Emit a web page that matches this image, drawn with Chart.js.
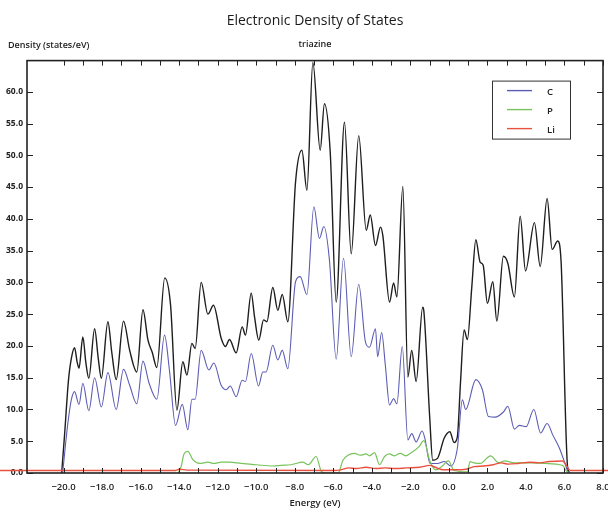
<!DOCTYPE html>
<html>
<head>
<meta charset="utf-8">
<script src="https://cdn.jsdelivr.net/npm/chart.js@4.4.1/dist/chart.umd.min.js"></script>
<style>
    html, body { margin: 0; padding: 0; background: #fff; overflow: hidden; }
    #wrap { width: 608px; height: 512px; }
</style>
</head>
<body>
<div id="wrap"><canvas id="dosChart"></canvas></div>
<script>
// Energy (eV) / density (states/eV) pairs
const totalDos = [
    [-20.1, 0], [-19.95, 6], [-19.75, 14.5], [-19.6, 18], [-19.43, 19.7], [-19.3, 17.5], [-19.2, 16.5],
    [-19.0, 21.4], [-18.85, 17.5], [-18.69, 14.9], [-18.39, 22.7], [-18.2, 18], [-18.04, 14.9],
    [-17.7, 23.8], [-17.5, 19], [-17.27, 14.7], [-16.89, 23.9], [-16.57, 19.3], [-16.2, 15.9],
    [-15.88, 25.7], [-15.62, 20.9], [-15.4, 19], [-15.16, 16.6], [-14.75, 30.7], [-14.45, 26.5],
    [-14.12, 9.9], [-13.81, 17.5], [-13.6, 15.4], [-13.34, 20.4], [-13.17, 19.6], [-12.86, 30.0],
    [-12.51, 25.0], [-12.22, 26.4], [-11.82, 21.2], [-11.6, 19.9], [-11.39, 21.0], [-11.04, 18.9],
    [-10.73, 23.0], [-10.56, 21.7], [-10.26, 28.3], [-10.09, 24.6], [-9.87, 20.9], [-9.62, 24.1],
    [-9.45, 23.8], [-9.14, 29.2], [-8.88, 25.6], [-8.65, 28.1], [-8.36, 23.8], [-7.96, 45.8],
    [-7.63, 50.8], [-7.37, 44.5], [-7.06, 64.6], [-6.68, 50.8], [-6.46, 58.1], [-6.16, 50.5],
    [-5.85, 26.9], [-5.42, 55.2], [-5.07, 34.5], [-4.68, 53.1], [-4.29, 38.2], [-4.08, 40.6],
    [-3.81, 35.8], [-3.55, 38.7], [-3.43, 37.4], [-3.08, 26.9], [-2.87, 29.9], [-2.7, 27.7],
    [-2.39, 45.1], [-2.13, 15.1], [-1.93, 19.3], [-1.7, 14.4], [-1.36, 26.1], [-1.3, 25.5],
    [-1.0, 9], [-0.84, 2.0], [-0.59, 2.3], [-0.24, 5.5], [0.05, 6.5], [0.27, 4.8], [0.44, 5.7],
    [0.6, 14.1], [0.79, 22.5], [0.96, 21.0], [1.19, 29.3], [1.4, 36.7], [1.62, 33.2], [1.78, 32.7],
    [2.0, 26.7], [2.28, 30.1], [2.49, 23.9], [2.83, 34.1], [3.06, 33.0], [3.4, 27.7], [3.7, 40.4],
    [3.98, 31.8], [4.44, 39.4], [4.74, 32.5], [5.1, 43.2], [5.36, 35.2], [5.65, 36.5], [5.82, 33.5],
    [6.17, 0.7], [6.3, 0]
];

const carbonDos = [
    [-20.05, 0], [-19.95, 3], [-19.78, 7.8], [-19.6, 11.5], [-19.43, 12.8], [-19.2, 10.8], [-19.0, 14.1],
    [-18.69, 9.8], [-18.39, 15.0], [-18.04, 10.4], [-17.7, 15.8], [-17.27, 10.0], [-16.89, 16.3],
    [-16.57, 13.8], [-16.2, 10.9], [-15.88, 17.6], [-15.57, 14.2], [-15.16, 11.6], [-14.76, 21.7],
    [-14.5, 16], [-14.19, 7.5], [-13.84, 10.8], [-13.55, 6.8], [-13.34, 11.6], [-13.17, 11.6],
    [-12.86, 19.3], [-12.46, 16.2], [-12.2, 17.3], [-11.82, 13.8], [-11.56, 13.1], [-11.35, 13.7],
    [-11.04, 12.0], [-10.73, 14.6], [-10.56, 14.4], [-10.26, 18.8], [-9.88, 13.7], [-9.66, 15.9],
    [-9.49, 15.9], [-9.14, 20.1], [-8.88, 17.8], [-8.65, 19.3], [-8.36, 16.4], [-7.96, 30.1],
    [-7.72, 30.9], [-7.37, 28.1], [-7.01, 41.9], [-6.72, 36.9], [-6.49, 38.8], [-6.2, 33.5],
    [-5.85, 17.9], [-5.47, 33.8], [-5.07, 18.3], [-4.68, 29.7], [-4.33, 20.6], [-4.12, 19.8],
    [-3.81, 22.7], [-3.7, 18.3], [-3.49, 22.1], [-3.3, 17], [-3.08, 10.7], [-2.87, 11.7], [-2.7, 10.9],
    [-2.42, 19.9], [-2.13, 5.2], [-1.93, 6.2], [-1.7, 4.9], [-1.39, 6.6], [-1.25, 5.5], [-0.98, 1.5],
    [-0.59, 1.5], [-0.24, 1.8], [0.1, 1.1], [0.44, 3.9], [0.7, 11.5], [0.87, 10.0], [1.4, 14.7],
    [1.74, 13.1], [2.05, 8.9], [2.4, 8.8], [2.83, 9.6], [3.06, 10.5], [3.4, 6.9], [3.66, 7.5],
    [4.01, 7.3], [4.41, 10.0], [4.76, 6.3], [5.1, 7.8], [5.39, 6.0], [5.74, 3.9], [6.05, 1.3], [6.2, 0]
];

const phosphorusDos = [
    [-14.05, 0], [-13.9, 1.0], [-13.75, 3.0], [-13.55, 3.4], [-13.29, 2.1], [-12.94, 1.5], [-12.51, 1.7],
    [-12.2, 1.5], [-11.82, 1.7], [-11.39, 1.7], [-10.78, 1.5], [-10.0, 1.3], [-9.14, 1.1], [-8.7, 1.2],
    [-8.2, 1.3], [-7.58, 1.7], [-7.3, 1.3], [-6.89, 2.6], [-6.63, 0.3], [-6.4, 0], [-5.75, 0],
    [-5.5, 2.0], [-5.24, 2.8], [-4.9, 3.1], [-4.6, 2.8], [-4.3, 3.0], [-4.12, 2.7], [-3.86, 3.2],
    [-3.6, 1.3], [-3.34, 2.6], [-3.08, 3.0], [-2.83, 2.7], [-2.53, 3.1], [-2.25, 2.7], [-1.99, 3.1],
    [-1.56, 4.1], [-1.3, 5.1], [-1.0, 2.0], [-0.7, 0.5], [-0.38, 1.0], [-0.03, 1.9], [0.27, 0.4],
    [0.96, 0.2], [1.1, 1.8], [1.3, 1.6], [1.63, 1.5], [2.16, 2.7], [2.6, 1.6], [2.9, 1.9], [3.4, 1.6],
    [4.3, 1.6], [5.0, 1.5], [5.9, 1.2], [6.1, 0.3], [6.3, 0]
];

const lithiumDos = [
    [-23.5, 0.4], [-14.2, 0.4], [-14.0, 0.6], [-13.6, 0.45], [-6.0, 0.4], [-5.6, 0.5], [-5.2, 0.8],
    [-4.8, 0.7], [-4.3, 0.9], [-3.8, 0.7], [-3.3, 0.8], [-2.8, 0.7], [-2.2, 0.8], [-1.5, 0.9],
    [-1.0, 1.2], [-0.7, 0.9], [-0.3, 0.5], [0.3, 0.5], [0.9, 0.6], [1.3, 1.0], [1.8, 1.1], [2.3, 1.3],
    [2.7, 1.6], [3.1, 1.4], [3.6, 1.5], [4.2, 1.7], [4.7, 1.6], [5.2, 1.8], [5.9, 1.9], [6.1, 1.2],
    [6.3, 0.4], [8.5, 0.4]
];

const legendNames = ['C', 'P', 'Li'];

function toPoints(pairs) {
    return pairs.map(p => ({ x: p[0], y: p[1] }));
}

function signedLabel(v) {
    return (v < 0 ? '\u2212' : '') + Math.abs(v).toFixed(1);
}

// frame, inward tick marks, corner legend and the y axis caption
const dosDecor = {
    id: 'dosDecor',
    beforeDraw(chart) {
        const ctx = chart.ctx;
        ctx.save();
        ctx.fillStyle = '#fff';
        ctx.fillRect(0, 0, chart.width, chart.height);
        ctx.restore();
    },
    afterDraw(chart) {
        const { ctx, chartArea: a, scales: { x, y } } = chart;
        ctx.save();
        ctx.strokeStyle = '#222';
        ctx.lineWidth = 1;
        ctx.beginPath();
        x.ticks.forEach(t => {
            if (Math.abs(t.value - Math.round(t.value)) > 1e-6) return;
            const px = Math.round(x.getPixelForValue(t.value)) + 0.5;
            ctx.moveTo(px, a.bottom);
            ctx.lineTo(px, a.bottom - 5);
            ctx.moveTo(px, a.top);
            ctx.lineTo(px, a.top + 5);
        });
        y.ticks.forEach(t => {
            if (Math.abs(t.value % 5) > 1e-6) return;
            const py = Math.round(y.getPixelForValue(t.value)) + 0.5;
            ctx.moveTo(a.left, py);
            ctx.lineTo(a.left + 6, py);
            ctx.moveTo(a.right, py);
            ctx.lineTo(a.right - 6, py);
        });
        ctx.stroke();

        ctx.lineWidth = 1.6;
        ctx.strokeRect(a.left, a.top, a.right - a.left, a.bottom - a.top);

        // legend box in the top right corner
        const bx = a.right - 111, by = a.top + 20;
        ctx.lineWidth = 1;
        ctx.strokeStyle = '#333';
        ctx.fillStyle = '#fff';
        ctx.fillRect(bx, by, 78, 58);
        ctx.strokeRect(bx + 0.5, by + 0.5, 78, 58);
        ctx.font = '600 9.5px "Open Sans"';
        ctx.textBaseline = 'middle';
        legendNames.forEach((name, i) => {
            const ds = chart.data.datasets.find(d => d.label === name);
            const ry = by + 10 + i * 19;
            ctx.strokeStyle = ds.borderColor;
            ctx.lineWidth = 1.4;
            ctx.beginPath();
            ctx.moveTo(bx + 15, ry);
            ctx.lineTo(bx + 40, ry);
            ctx.stroke();
            ctx.fillStyle = '#222';
            ctx.fillText(name, bx + 55, ry + 2);
        });

        ctx.font = '600 9px "Open Sans"';
        ctx.fillStyle = '#222';
        ctx.textBaseline = 'middle';
        ctx.fillText('Density (states/eV)', 8, 45);
        ctx.restore();
    }
};

const ctx = document.getElementById('dosChart').getContext('2d');
new Chart(ctx, {
    type: 'line',
    data: {
        datasets: [
            {
                label: 'Li',
                data: toPoints(lithiumDos),
                borderColor: '#e8513e',
                borderWidth: 1.4,
                clip: false,
                order: 0
            },
            {
                label: 'P',
                data: toPoints(phosphorusDos),
                borderColor: '#78c35c',
                borderWidth: 1.2,
                order: 1
            },
            {
                label: 'C',
                data: toPoints(carbonDos),
                borderColor: '#5c5cb4',
                borderWidth: 1.1,
                order: 2
            },
            {
                label: 'Total',
                data: toPoints(totalDos),
                borderColor: '#1e1e1e',
                borderWidth: 1.4,
                order: 3
            }
        ]
    },
    options: {
        responsive: true,
        maintainAspectRatio: false,
        animation: false,
        layout: {
            padding: { left: 0, right: 5, top: 0, bottom: 0 }
        },
        elements: {
            point: { radius: 0 },
            line: { cubicInterpolationMode: 'monotone', fill: false }
        },
        plugins: {
            legend: { display: false },
            tooltip: { enabled: false },
            title: {
                display: true,
                text: 'Electronic Density of States',
                fullSize: false,
                color: '#1a1a1a',
                font: { family: 'Open Sans', size: 14, weight: '500' },
                padding: { top: 13, bottom: 7 }
            },
            subtitle: {
                display: true,
                text: 'triazine',
                fullSize: false,
                color: '#222',
                font: { family: 'Open Sans', size: 9, weight: '600' },
                padding: { top: 2, bottom: 11 }
            }
        },
        scales: {
            x: {
                type: 'linear',
                min: -21.9,
                max: 8,
                grid: { display: false, drawTicks: false },
                border: { display: false },
                ticks: {
                    stepSize: 1,
                    autoSkip: false,
                    maxRotation: 0,
                    padding: 9,
                    color: '#222',
                    font: { family: 'Open Sans', size: 9.5, weight: '600' },
                    callback: function (value) {
                        if (Math.abs(value % 2) > 1e-6) return '';
                        return signedLabel(value);
                    }
                },
                title: {
                    display: true,
                    text: 'Energy (eV)',
                    color: '#222',
                    font: { family: 'Open Sans', size: 9.5, weight: '600' },
                    padding: { top: 2, bottom: 3 }
                },
                afterFit: function (scale) {
                    scale.height = 39;
                    scale.paddingLeft = 0;
                    scale.paddingRight = 0;
                }
            },
            y: {
                min: 0,
                max: 64.9,
                grid: { display: false, drawTicks: false },
                border: { display: false },
                ticks: {
                    stepSize: 5,
                    padding: 4,
                    color: '#222',
                    font: { family: 'Open Sans', size: 8.5, weight: '700' },
                    callback: function (value) {
                        if (Math.abs(value % 5) > 1e-6) return '';
                        return value.toFixed(1);
                    }
                },
                afterFit: function (scale) {
                    scale.width = 27;
                    scale.paddingTop = 0;
                    scale.paddingBottom = 0;
                }
            }
        }
    },
    plugins: [dosDecor]
});
</script>
</body>
</html>
